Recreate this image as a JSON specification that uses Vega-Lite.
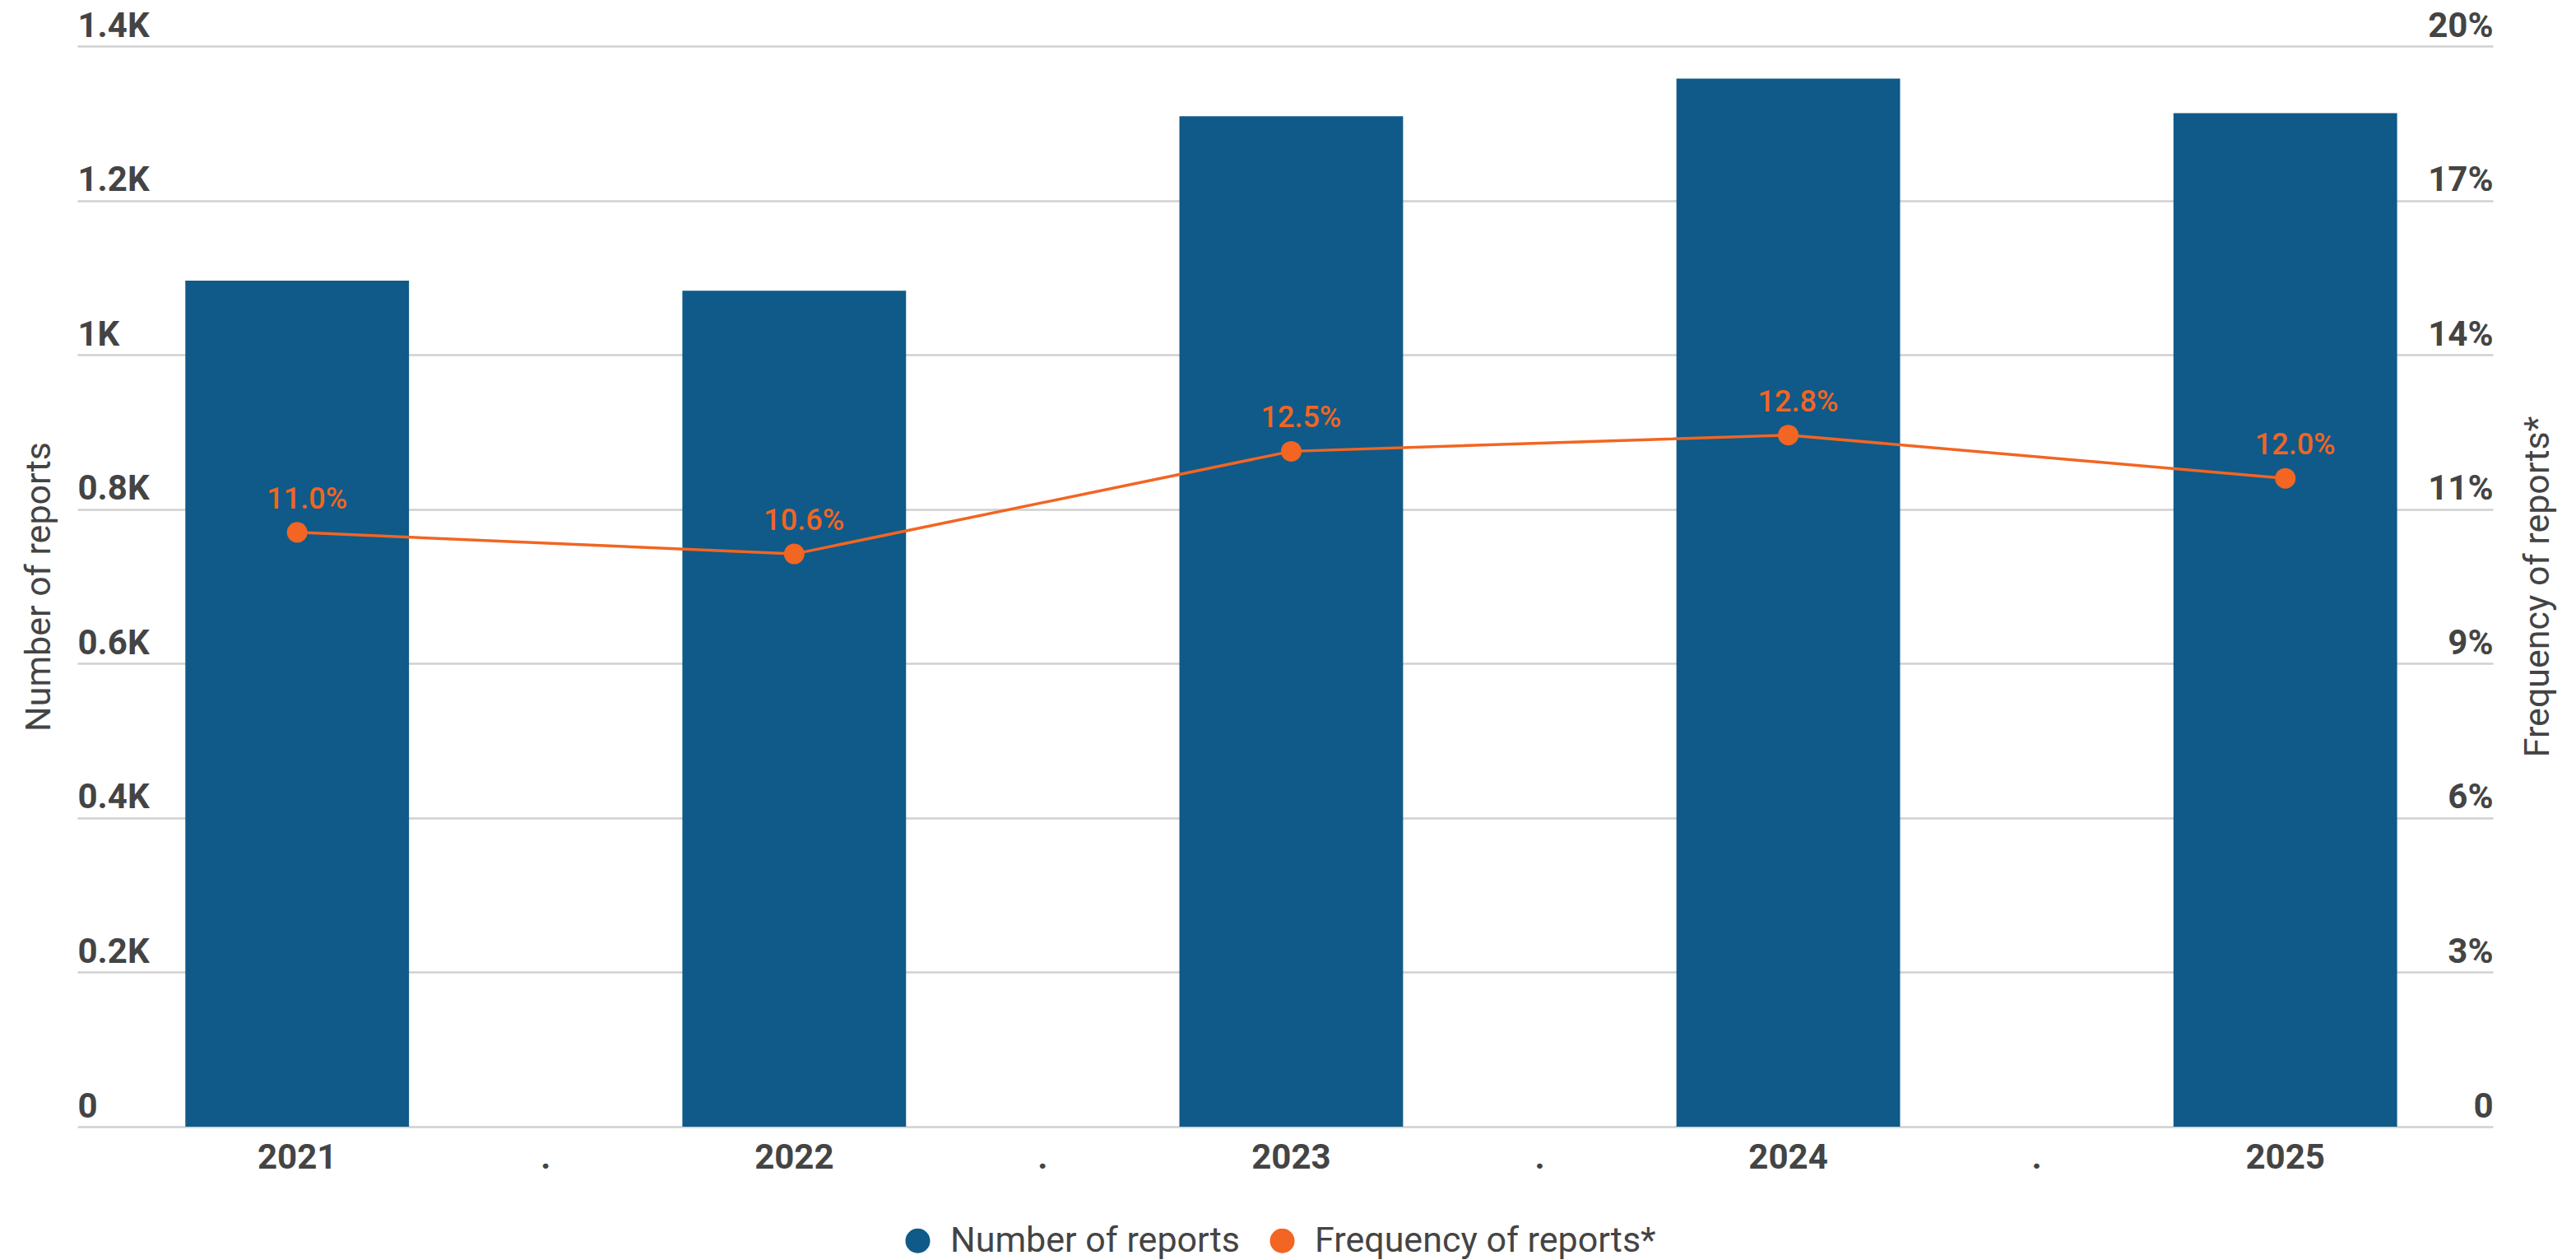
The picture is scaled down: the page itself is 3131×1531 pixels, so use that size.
{
  "$schema": "https://vega.github.io/schema/vega-lite/v6.json",
  "width": 2936,
  "height": 1313,
  "autosize": {"type": "none"},
  "padding": {"left": 94, "top": 56, "right": 101, "bottom": 162},
  "background": "white",
  "config": {"view": {"stroke": null}, "font": "Roboto"},
  "data": {
    "values": [
      {"year": "2021", "reports": 1096, "freq": 0.110},
      {"year": "2022", "reports": 1083, "freq": 0.106},
      {"year": "2023", "reports": 1309, "freq": 0.125},
      {"year": "2024", "reports": 1358, "freq": 0.128},
      {"year": "2025", "reports": 1313, "freq": 0.120}
    ]
  },
  "encoding": {
    "x": {
      "field": "year",
      "type": "nominal",
      "sort": null,
      "scale": {
        "domain": ["2021", "g1", "2022", "g2", "2023", "g3", "2024", "g4", "2025"],
        "paddingInner": 0.1,
        "paddingOuter": 0.41,
        "align": 0.53
      },
      "axis": {
        "title": null,
        "labelExpr": "indexof(datum.value, 'g') == 0 ? '.' : datum.value",
        "labelFont": "Roboto",
        "labelFontWeight": "bold",
        "labelFontSize": 42,
        "labelColor": "#444444",
        "labelAngle": 0,
        "labelPadding": 17,
        "ticks": false,
        "domain": false,
        "grid": false
      }
    }
  },
  "layer": [
    {
      "mark": {"type": "bar"},
      "encoding": {
        "y": {
          "field": "reports",
          "type": "quantitative",
          "scale": {"domain": [0, 1400], "nice": false},
          "axis": {
            "orient": "left",
            "values": [0, 200, 400, 600, 800, 1000, 1200, 1400],
            "labelExpr": "datum.value == 0 ? '0' : (datum.value / 1000) + 'K'",
            "title": "Number of reports",
            "titleFont": "Roboto",
            "titleFontWeight": "normal",
            "titleFontSize": 43,
            "titleColor": "#444444",
            "titleBaseline": "middle",
            "titlePadding": 47,
            "labelFont": "Roboto",
            "labelFontWeight": "bold",
            "labelFontSize": 42,
            "labelColor": "#444444",
            "labelAlign": "left",
            "labelBaseline": "bottom",
            "labelPadding": 0,
            "labelOffset": -3,
            "ticks": false,
            "tickSize": 0,
            "domain": false,
            "grid": true,
            "gridColor": "#d0d0d0",
            "gridWidth": 2.5
          }
        },
        "color": {
          "datum": "Number of reports",
          "type": "nominal",
          "scale": {
            "domain": ["Number of reports", "Frequency of reports*"],
            "range": ["#0f5a88", "#f26522"]
          },
          "legend": {
            "title": null,
            "orient": "none",
            "direction": "horizontal",
            "legendX": 1000,
            "legendY": 1430,
            "symbolType": "circle",
            "symbolSize": 900,
            "symbolStrokeWidth": 0,
            "labelFont": "Roboto",
            "labelFontSize": 43,
            "labelColor": "#444444",
            "labelLimit": 0,
            "labelOffset": 18,
            "columnPadding": 30,
            "padding": 0
          }
        }
      }
    },
    {
      "encoding": {
        "y": {
          "field": "freq",
          "type": "quantitative",
          "scale": {"domain": [0, 0.2], "nice": false},
          "axis": {
            "orient": "right",
            "values": [0, 0.028571, 0.057143, 0.085714, 0.114286, 0.142857, 0.171429, 0.2],
            "labelExpr": "datum.value == 0 ? '0' : format(datum.value, '.0%')",
            "title": "Frequency of reports*",
            "titleAngle": 270,
            "titleFont": "Roboto",
            "titleFontWeight": "normal",
            "titleFontSize": 43,
            "titleColor": "#444444",
            "titleBaseline": "middle",
            "titlePadding": 54,
            "labelFont": "Roboto",
            "labelFontWeight": "bold",
            "labelFontSize": 42,
            "labelColor": "#444444",
            "labelAlign": "right",
            "labelBaseline": "bottom",
            "labelPadding": 0,
            "labelOffset": -3,
            "ticks": false,
            "tickSize": 0,
            "domain": false,
            "grid": false
          }
        }
      },
      "layer": [
        {
          "mark": {"type": "line", "color": "#f26522", "strokeWidth": 3.5}
        },
        {
          "mark": {"type": "point", "filled": true, "opacity": 1, "size": 625},
          "encoding": {
            "color": {"datum": "Frequency of reports*", "type": "nominal"}
          }
        },
        {
          "mark": {
            "type": "text",
            "color": "#f26522",
            "font": "Roboto",
            "fontSize": 36,
            "fontWeight": 500,
            "baseline": "alphabetic",
            "dy": -29,
            "dx": 12
          },
          "encoding": {
            "text": {"field": "freq", "type": "quantitative", "format": ".1%"}
          }
        }
      ]
    }
  ],
  "resolve": {"scale": {"y": "independent"}}
}
